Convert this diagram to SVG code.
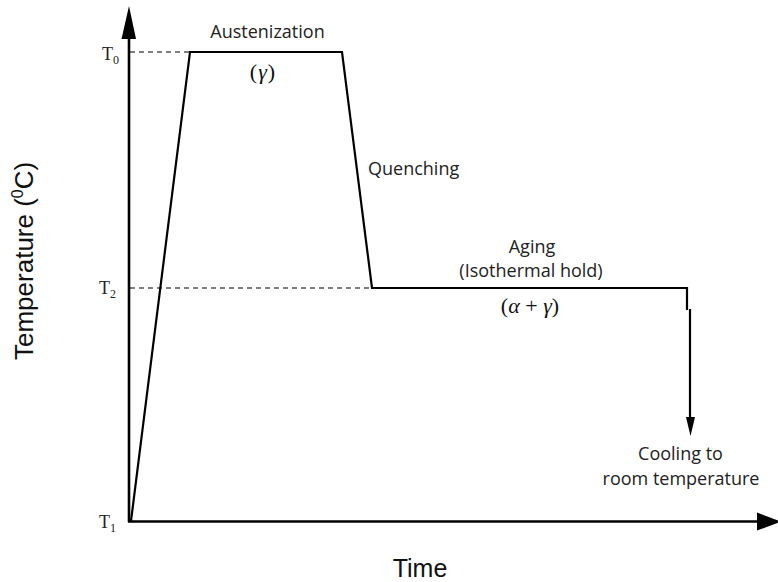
<svg xmlns="http://www.w3.org/2000/svg" width="778" height="582" viewBox="0 0 778 582">
<style>
.lbl{font-family:"Open Sans","Liberation Sans",sans-serif;font-size:18px;fill:#222;text-anchor:middle}
.start{text-anchor:start}
.ax{font-family:"Liberation Sans",Arial,sans-serif;fill:#111}
.math{font-family:"Liberation Serif","DejaVu Serif",serif;font-size:22px;fill:#111;text-anchor:middle}
.tl{font-family:"Liberation Serif","DejaVu Serif",serif;font-size:18px;fill:#222}
.dash{stroke:#000;stroke-width:1;stroke-dasharray:5,4;fill:none}
.axis{stroke:#000;stroke-width:2.6;fill:none}
.curve{stroke:#000;stroke-width:2.2;fill:none;stroke-linejoin:miter}
</style>
<rect width="778" height="582" fill="#fff"/>
<g id="connectors">
<path class="dash" d="M130,52 H190 M130,288 H372"/>
<path class="curve" d="M131,521 L190,52 L342,52 L372,288 L687,288 L687,310"/>
<path class="curve" d="M690,309 V420"/>
<polygon points="686,417 695,417 690.5,436" fill="#000"/>
</g>
<g id="axes">
<path class="axis" d="M129,522 V36 M128,521.5 H760"/>
<polygon points="129,6 121.5,39 136,39" fill="#000"/>
<polygon points="757,512.5 757,530.5 781,521.5" fill="#000"/>
</g>
<g id="axis-labels">
<text class="ax" font-size="25" x="420" y="577" text-anchor="middle">Time</text>
<text class="ax" font-size="26" transform="translate(33,360) rotate(-90)">Temperature (<tspan font-size="16" dy="-10">0</tspan><tspan dy="10">C)</tspan></text>
</g>
<g id="ticks">
<text class="tl" x="102" y="60">T<tspan font-size="12" dy="4">0</tspan></text>
<text class="tl" x="99" y="294">T<tspan font-size="12" dy="4">2</tspan></text>
<text class="tl" x="99" y="528">T<tspan font-size="12" dy="4">1</tspan></text>
</g>
<g id="austenization">
<text class="lbl" x="267.5" y="38">Austenization</text>
<text class="math" x="262.5" y="79">(<tspan font-style="italic" dx="1">γ</tspan><tspan dx="1">)</tspan></text>
</g>
<g id="quenching">
<text class="lbl start" x="368" y="175">Quenching</text>
</g>
<g id="aging">
<text class="lbl" x="532" y="253">Aging</text>
<text class="lbl" x="531" y="277">(Isothermal hold)</text>
<text class="math" x="530" y="313" xml:space="preserve">(<tspan font-style="italic">α</tspan> + <tspan font-style="italic">γ</tspan>)</text>
</g>
<g id="cooling">
<text class="lbl" x="680.5" y="460">Cooling to</text>
<text class="lbl" x="681" y="485">room temperature</text>
</g>
</svg>
